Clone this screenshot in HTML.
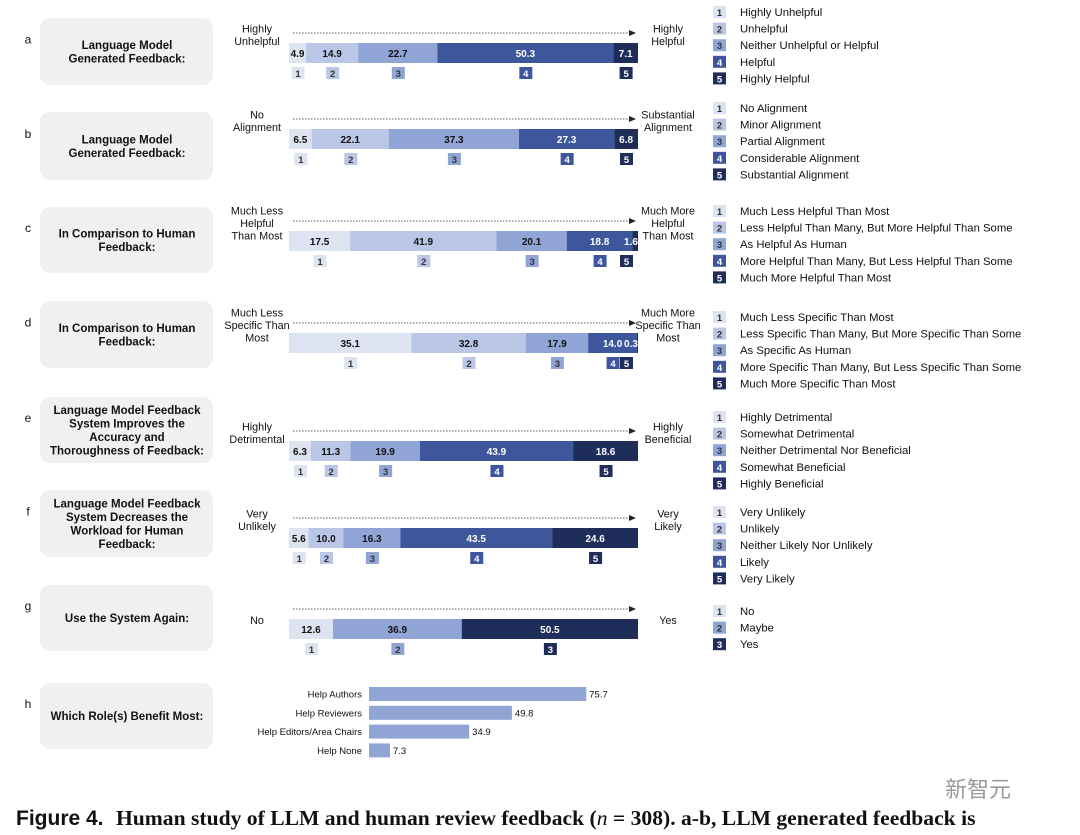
<!DOCTYPE html>
<html><head><meta charset="utf-8"><style>
html,body{margin:0;padding:0;background:#fff;}
svg{display:block;font-family:"Liberation Sans",Arial,sans-serif;}
</style></head><body>
<svg id="fig" width="1080" height="835" viewBox="0 0 1080 835" xmlns="http://www.w3.org/2000/svg">
<text x="16" y="825" font-size="21" font-weight="bold" fill="#111">Figure 4.</text>
<text x="116" y="825" font-size="21.6" font-weight="bold" fill="#111" font-family="Liberation Serif, serif">Human study of LLM and human review feedback (<tspan font-style="italic" font-weight="normal">n</tspan> = 308). a-b, LLM generated feedback is</text>
<text x="945" y="797" font-size="22" fill="#999" font-family="Liberation Sans, Noto Sans CJK SC, sans-serif">新智元</text>
</svg>
<script>
// ---- data ----
const panelLetters = ["a","b","c","d","e","f","g"];
const panelTitles = [
 ["Language Model","Generated Feedback:"],
 ["Language Model","Generated Feedback:"],
 ["In Comparison to Human","Feedback:"],
 ["In Comparison to Human","Feedback:"],
 ["Language Model Feedback","System Improves the","Accuracy and","Thoroughness of Feedback:"],
 ["Language Model Feedback","System Decreases the","Workload for Human","Feedback:"],
 ["Use the System Again:"]
];
const panelValues = [
 [4.9,14.9,22.7,50.3,7.1],
 [6.5,22.1,37.3,27.3,6.8],
 [17.5,41.9,20.1,18.8,1.6],
 [35.1,32.8,17.9,14.0,0.3],
 [6.3,11.3,19.9,43.9,18.6],
 [5.6,10.0,16.3,43.5,24.6],
 [12.6,36.9,50.5]
];
const leftEnds = [["Highly","Unhelpful"],["No","Alignment"],["Much Less","Helpful","Than Most"],["Much Less","Specific Than","Most"],["Highly","Detrimental"],["Very","Unlikely"],["No"]];
const rightEnds = [["Highly","Helpful"],["Substantial","Alignment"],["Much More","Helpful","Than Most"],["Much More","Specific Than","Most"],["Highly","Beneficial"],["Very","Likely"],["Yes"]];
const legends = [
 ["Highly Unhelpful","Unhelpful","Neither Unhelpful or Helpful","Helpful","Highly Helpful"],
 ["No Alignment","Minor Alignment","Partial Alignment","Considerable Alignment","Substantial Alignment"],
 ["Much Less Helpful Than Most","Less Helpful Than Many, But More Helpful Than Some","As Helpful As Human","More Helpful Than Many, But Less Helpful Than Some","Much More Helpful Than Most"],
 ["Much Less Specific Than Most","Less Specific Than Many, But More Specific Than Some","As Specific As Human","More Specific Than Many, But Less Specific Than Some","Much More Specific Than Most"],
 ["Highly Detrimental","Somewhat Detrimental","Neither Detrimental Nor Beneficial","Somewhat Beneficial","Highly Beneficial"],
 ["Very Unlikely","Unlikely","Neither Likely Nor Unlikely","Likely","Very Likely"],
 ["No","Maybe","Yes"]
];
const roleCategories = ["Help Authors","Help Reviewers","Help Editors/Area Chairs","Help None"];
const roleValues = [75.7,49.8,34.9,7.3];

// ---- layout ----
const svg = document.getElementById('fig');
const NS = "http://www.w3.org/2000/svg";
function mk(tag, attrs, parent){const e=document.createElementNS(NS,tag);for(const k in attrs)e.setAttribute(k,attrs[k]);(parent||svg).appendChild(e);return e;}
const boxY = [18,112,207,301,397,490,585,683];
const boxH = [67,68,66,67,66,67,66,66];
const barY = [43,129,231,333,441,528,619];
const legY = [12,108,211,317,417,512,611];
const barX0 = 289, barW = 349, barH = 20;
const colors5 = ["#dde3f1","#b9c6e5","#90a4d6","#3e569c","#1f2d5a"];
const colors3 = ["#dde3f1","#90a4d6","#1f2d5a"];
const xScale = (v,total)=> v/total*barW;

function multiline(lines, x, yc, size, anchor, weight, name){
  const lh = size*1.17;
  const t = mk('text',{x:x,'font-size':size,'text-anchor':anchor,fill:'#111','font-weight':weight||'normal'});
  
  
  lines.forEach((l,i)=>{const s=mk('tspan',{x:x,y:yc-(lines.length-1)*lh/2+i*lh+size*0.36},t);s.textContent=l;});
  return t;
}

const allTitles = panelTitles.concat([["Which Role(s) Benefit Most:"]]);
const allLetters = panelLetters.concat(["h"]);
allTitles.forEach((tl,i)=>{
  const r = mk('rect',{x:40,y:boxY[i],width:173,height:boxH[i],rx:10,fill:'#f0f0f0'});
  
  
  multiline(tl,127,boxY[i]+boxH[i]/2,11.5,'middle','bold','panel-'+allLetters[i]+'-title');
  const L = mk('text',{x:28,y:boxY[i]+boxH[i]/2-12+4,'font-size':12,'text-anchor':'middle',fill:'#111'});
  L.textContent = allLetters[i];
  
  
});

panelValues.forEach((vals,p)=>{
  const cols = vals.length===5?colors5:colors3;
  const total = vals.reduce((a,b)=>a+b,0);
  const y = barY[p];
  const ln = mk('line',{x1:293,y1:y-10,x2:629,y2:y-10,stroke:'#222','stroke-width':0.8,'stroke-dasharray':'1.5,1.5'});
  
  
  const ah = mk('path',{d:`M629 ${y-13} L636 ${y-10} L629 ${y-7} Z`,fill:'#222'});
  
  
  multiline(leftEnds[p],257,y-(leftEnds[p].length>1?8:-1),10.8,'middle','normal','panel-'+panelLetters[p]+'-left-end-label');
  multiline(rightEnds[p],668,y-(rightEnds[p].length>1?8:-1),10.8,'middle','normal','panel-'+panelLetters[p]+'-right-end-label');
  let cx = barX0;
  vals.forEach((v,i)=>{
    const w = xScale(v,total);
    const r = mk('rect',{x:cx,y:y,width:w,height:barH,fill:cols[i]});
    
    
    const light = !(i>=3 || (cols.length===3&&i===2));
    const mid = cx+w/2;
    const tx = Math.min(Math.max(mid, cx+8), 631);
    const t = mk('text',{x:tx,y:y+14,'font-size':10,'font-weight':'bold','text-anchor':'middle',fill: light?'#111':'#fff'});
    t.textContent = v.toFixed(1);
    
    
    const sx = Math.min(Math.max(mid, cx+7), 626);
    const sq = mk('rect',{x:sx-6,y:y+24,width:13,height:12,fill:cols[i]});
    
    
    const st = mk('text',{x:sx+0.5,y:y+34,'font-size':9.5,'font-weight':'bold','text-anchor':'middle',fill:light?'#333':'#fff'});
    st.textContent = String(i+1);
    
    
    cx += w;
  });
  legends[p].forEach((lab,i)=>{
    const light = !(i>=3 || (cols.length===3&&i===2));
    const ly = legY[p]+i*16.6;
    const sq = mk('rect',{x:713,y:ly-6,width:13,height:12,fill:cols[i]});
    
    
    const n = mk('text',{x:719.5,y:ly+4,'font-size':9.5,'font-weight':'bold','text-anchor':'middle',fill:light?'#333':'#fff'});
    n.textContent = String(i+1);
    
    
    const t = mk('text',{x:740,y:ly+4,'font-size':11.3,fill:'#111'});
    t.textContent = lab;
    
    
  });
});

const hX0 = 369, hScale = 2.87, hY0 = 687, hStep = 18.8, hH = 14;
roleCategories.forEach((c,i)=>{
  const y = hY0 + i*hStep;
  const w = roleValues[i]*hScale;
  const r = mk('rect',{x:hX0,y:y,width:w,height:hH,fill:'#90a4d6'});
  
  
  const l = mk('text',{x:hX0-7,y:y+10.5,'font-size':9.5,'text-anchor':'end',fill:'#111'});
  l.textContent = c;
  
  
  const v = mk('text',{x:hX0+w+3,y:y+10.5,'font-size':9.5,fill:'#111'});
  v.textContent = roleValues[i].toFixed(1);
  
  
});
</script>
</body></html>
